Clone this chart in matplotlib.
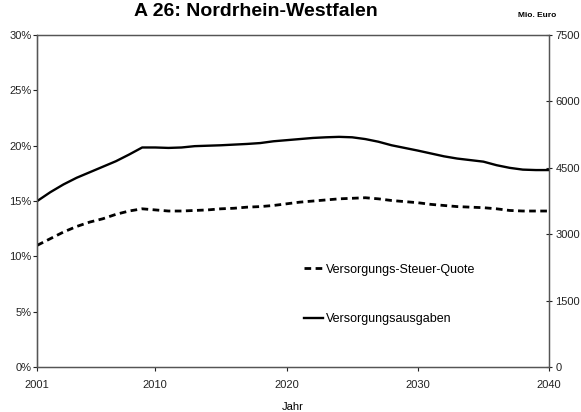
import matplotlib
matplotlib.use("Agg")
import matplotlib.pyplot as plt
from matplotlib.ticker import FuncFormatter

plt.rcParams['font.family'] = ['Liberation Sans', 'DejaVu Sans']

years = list(range(2001, 2041))

# Versorgungs-Steuer-Quote in %
quote = [11.0, 11.6, 12.2, 12.7, 13.1, 13.4, 13.8, 14.1, 14.3, 14.2,
         14.1, 14.1, 14.15, 14.2, 14.3, 14.35, 14.45, 14.5, 14.6, 14.75,
         14.9, 15.0, 15.1, 15.2, 15.25, 15.3, 15.2, 15.05, 14.95, 14.85,
         14.7, 14.6, 14.5, 14.45, 14.4, 14.3, 14.15, 14.1, 14.1, 14.1]

# Versorgungsausgaben in Mio. Euro
ausgaben = [3750, 3950, 4125, 4275, 4400, 4525, 4650, 4800, 4960, 4960,
            4950, 4960, 4990, 5000, 5010, 5025, 5040, 5060, 5100, 5125,
            5150, 5175, 5190, 5200, 5190, 5150, 5090, 5010, 4950, 4890,
            4825, 4760, 4710, 4675, 4640, 4560, 4500, 4460, 4450, 4450]

x_ticks = [2001, 2010, 2020, 2030, 2040]
pct_ticks = [0, 5, 10, 15, 20, 25, 30]
euro_ticks = [0, 1500, 3000, 4500, 6000, 7500]

fig = plt.figure(figsize=(5.81, 4.12), dpi=100)
ax = fig.add_axes([0.064, 0.109, 0.881, 0.806])
ax2 = ax.twinx()

l1, = ax.plot(years, quote, color='black', lw=2.0, linestyle=(0, (2.4, 1.6)),
              label='Versorgungs-Steuer-Quote')
l2, = ax2.plot(years, ausgaben, color='black', lw=1.7,
               label='Versorgungsausgaben')

ax.set_xlim(2001, 2040)
ax.set_ylim(0, 30)
ax2.set_ylim(0, 7500)
ax.set_xticks(x_ticks)
ax.set_yticks(pct_ticks)
ax.yaxis.set_major_formatter(FuncFormatter(lambda v, p: f"{int(v)}%"))
ax2.set_yticks(euro_ticks)

for a in (ax, ax2):
    for s in a.spines.values():
        s.set_linewidth(0.9)
        s.set_color('#555555')
ax.spines['left'].set_color('black')
ax.tick_params(axis='both', labelsize=8, length=3, width=0.8, colors='#222222')
ax.tick_params(axis='x', direction='out', pad=6)
ax.tick_params(axis='y', direction='out', pad=1)
ax2.tick_params(axis='y', labelsize=8, direction='inout', length=5, width=0.8,
                colors='#222222', pad=2)

ax.set_xlabel('Jahr', fontsize=8, labelpad=9)

ax.legend(handles=[l1, l2], loc='upper left', bbox_to_anchor=(0.5, 0.345),
          frameon=False, fontsize=9, handlelength=1.5, handletextpad=0.2,
          labelspacing=3.0)

fig.text(0.44, 0.972, 'A 26: Nordrhein-Westfalen', ha='center', va='center',
         fontsize=14, fontweight='bold')
fig.text(0.924, 0.962, 'Mio. Euro', ha='center', va='center',
         fontsize=6, fontweight='bold')

fig.savefig('out.png', dpi=100)
